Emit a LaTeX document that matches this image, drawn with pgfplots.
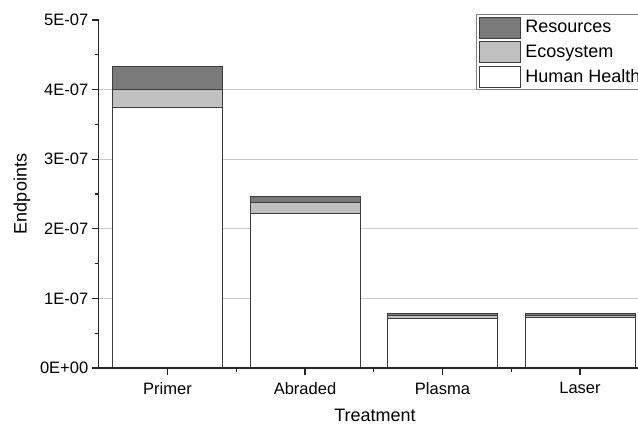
\documentclass[border=0pt]{standalone}
\usepackage{fontspec}
\setmainfont{Liberation Sans}
\usepackage{pgfplots}
\pgfplotsset{compat=1.18}
\definecolor{resgray}{RGB}{122,122,122}
\definecolor{ecogray}{RGB}{192,192,192}
\definecolor{edgegray}{RGB}{60,60,60}
\definecolor{gridgray}{RGB}{200,200,200}
\pgfplotsset{
  mylegend/.style={legend image code/.code={\draw[##1,line width=0.8pt] (0pt,-10.5pt) rectangle (41pt,10.5pt); \path (44pt,0pt);}},
  layers/mylayers/.define layer set={axis background,axis grid,pre main,main,axis ticks,axis lines,axis tick labels,axis descriptions,axis foreground}{
    grid style={/pgfplots/on layer=axis grid},
    tick style={/pgfplots/on layer=axis ticks},
    axis line style={/pgfplots/on layer=axis lines},
    label style={/pgfplots/on layer=axis descriptions},
    legend style={/pgfplots/on layer=axis descriptions},
    ticklabel style={/pgfplots/on layer=axis tick labels},
  },
}
\begin{document}
\begin{tikzpicture}
\begin{axis}[
  set layers=mylayers,
  scale only axis, width=539pt, height=348pt,
  xmin=0.5, xmax=4.42, ymin=0, ymax=5e-7,
  axis x line*=bottom, axis y line*=left,
  axis line style={line width=1.2pt, black!85},
  ybar stacked, bar width=0.8,
  xtick={1,2,3,4}, xticklabels={Primer,Abraded,Plasma,Laser},
  ytick={0,1e-7,2e-7,3e-7,4e-7,5e-7},
  yticklabels={0E+00,1E-07,2E-07,3E-07,4E-07,5E-07},
  minor ytick={0.5e-7,1.5e-7,2.5e-7,3.5e-7,4.5e-7},
  scaled y ticks=false,
  tick align=outside,
  major tick length=7pt, minor tick length=4pt,
  tick style={line width=1.2pt, black!85},
  extra x ticks={1.5,2.5,3.5},
  extra x tick labels={},
  extra x tick style={major tick length=4pt},
  extra y ticks={1e-7,2e-7,3e-7,4e-7},
  extra y tick labels={},
  extra y tick style={grid=major, major grid style={gridgray, line width=1pt}, major tick length=0pt},
  xticklabel style={font=\fontsize{16.5}{18}\selectfont, yshift=-4pt},
  yticklabel style={font=\fontsize{16.5}{18}\selectfont},
  xlabel={Treatment}, ylabel={Endpoints},
  every axis y label/.style={at={(axis description cs:-0.1424,0.5)}, rotate=90, anchor=center, font=\fontsize{18}{20}\selectfont},
  every axis x label/.style={at={(axis description cs:0.5125,-0.137)}, anchor=center, font=\fontsize{18}{20}\selectfont},
  reverse legend,
  legend style={at={(0.7,1.017)}, anchor=north west, draw=gray, line width=1pt,
    font=\fontsize{18}{20}\selectfont, cells={anchor=west}, row sep=3pt, inner sep=2pt},
  clip=false,
]
\addplot[fill=white, draw=edgegray, line width=0.8pt, mylegend] coordinates {(1,3.75e-7) (2,2.22e-7) (3,0.71e-7) (4,0.72e-7)};
\addplot[fill=ecogray, draw=edgegray, line width=0.8pt, mylegend] coordinates {(1,0.25e-7) (2,0.155e-7) (3,0.04e-7) (4,0.035e-7)};
\addplot[fill=resgray, draw=edgegray, line width=0.8pt, mylegend] coordinates {(1,0.33e-7) (2,0.085e-7) (3,0.035e-7) (4,0.03e-7)};
\legend{Human Health, Ecosystem, Resources}
\coordinate (O) at (rel axis cs:0,0);
\end{axis}
\pgfresetboundingbox
\path[use as bounding box] ([xshift=-98.75pt,yshift=-58pt]O) rectangle ([xshift=539.25pt,yshift=368pt]O);
\end{tikzpicture}
\end{document}
